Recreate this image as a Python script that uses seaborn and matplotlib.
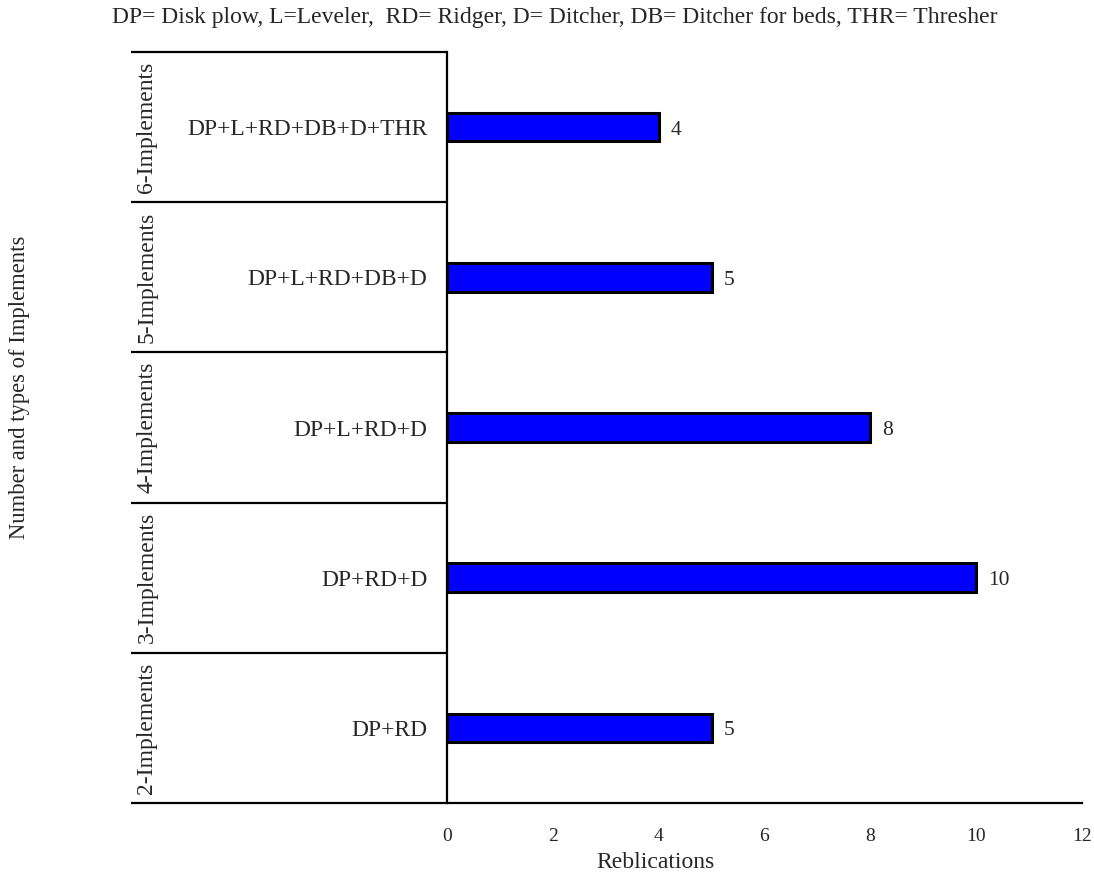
import matplotlib
matplotlib.use("Agg")
import matplotlib.pyplot as plt
import seaborn as sns
import pandas as pd

groups = ["6-Implements", "5-Implements", "4-Implements", "3-Implements", "2-Implements"]
combos = ["DP+L+RD+DB+D+THR", "DP+L+RD+DB+D", "DP+L+RD+D", "DP+RD+D", "DP+RD"]
values = [4, 5, 8, 10, 5]
xticks = [0, 2, 4, 6, 8, 10, 12]
title = "DP= Disk plow, L=Leveler,  RD= Ridger, D= Ditcher, DB= Ditcher for beds, THR= Thresher"

sns.set_style("white")
plt.rcParams['font.family'] = ['Liberation Serif', 'DejaVu Serif']

df = pd.DataFrame({"combo": combos, "value": values})

fig = plt.figure(figsize=(10.94, 8.77), dpi=100)
W, H = 1094, 877
ax = fig.add_axes([447 / W, 1 - 803 / H, (1082 - 447) / W, (803 - 52) / H])

sns.barplot(data=df, x="value", y="combo", orient="h", ax=ax, color="#0000FF",
            edgecolor="black", linewidth=2.2, width=0.19, saturation=1)

ax.set_xlim(0, 12)
ax.set_ylim(4.5, -0.5)
ax.set_xticks(xticks)
ax.set_xticklabels([str(t) for t in xticks], fontsize=14)
ax.tick_params(axis="x", length=0, pad=18)
ax.tick_params(axis="y", length=0, pad=14, labelsize=17)
ax.set_xlabel("")
ax.set_ylabel("")

for s in ["top", "right"]:
    ax.spines[s].set_visible(False)
ax.spines["left"].set_color("black")
ax.spines["left"].set_linewidth(1.6)
ax.spines["bottom"].set_color("black")
ax.spines["bottom"].set_linewidth(1.6)

# value labels
for i, v in enumerate(values):
    ax.text(v + 0.22, i + 0.02, str(v), va="center", ha="left", fontsize=15.5)

# group separators (multi-level category axis)
xl = (131 - 447) / (1082 - 447)
tr = ax.get_yaxis_transform()
for b in [-0.5, 0.5, 1.5, 2.5, 3.5, 4.5]:
    ax.plot([xl, 0], [b, b], transform=tr, color="black", lw=1.6, clip_on=False,
            solid_capstyle="butt")

# group labels
xg = (147 - 447) / (1082 - 447)
for i, g in enumerate(groups):
    ax.text(xg, i, g, transform=tr, rotation=90, va="center", ha="center", fontsize=17)

fig.text(655 / W, 1 - 862 / H, "Reblications", ha="center", va="center", fontsize=17)
fig.text(20 / W, 1 - 387 / H, "Number and types of Implements", rotation=90,
         ha="center", va="center", fontsize=16.3)
fig.text(555 / W, 1 - 18 / H, title, ha="center", va="center", fontsize=17)

fig.savefig("out.png", dpi=100)
